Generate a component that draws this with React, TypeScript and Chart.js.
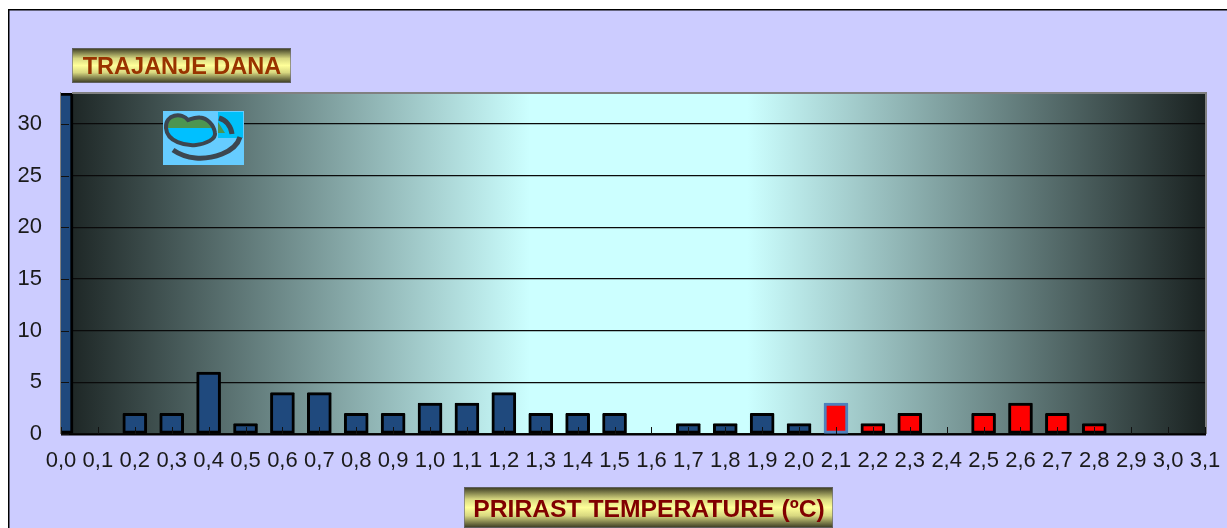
import React, { useEffect, useRef } from "react";
import { Chart, registerables } from "chart.js";

Chart.register(...registerables);

const categories = ["0,0","0,1","0,2","0,3","0,4","0,5","0,6","0,7","0,8","0,9","1,0","1,1","1,2","1,3","1,4","1,5","1,6","1,7","1,8","1,9","2,0","2,1","2,2","2,3","2,4","2,5","2,6","2,7","2,8","2,9","3,0","3,1"];
const days = [33,0,2,2,6,1,4,4,2,2,3,3,4,2,2,2,0,1,1,2,1,3,1,2,0,2,3,2,1,0,0,0];
const yTicks = [0,5,10,15,20,25,30];
const yTitle = "TRAJANJE DANA";
const xTitle = "PRIRAST TEMPERATURE (ºC)";

const BLUE = "#1f497d";
const RED = "#ff0000";
const FONT = '"Liberation Sans", Arial, sans-serif';

function box(ctx: CanvasRenderingContext2D, x: number, y: number, w: number, h: number, text: string, color: string, size: number, dy: number) {
  const g = ctx.createLinearGradient(0, y, 0, y + h);
  g.addColorStop(0, "#35351f");
  g.addColorStop(0.3, "#d8d880");
  g.addColorStop(0.5, "#ffff99");
  g.addColorStop(0.7, "#d8d880");
  g.addColorStop(1, "#35351f");
  ctx.fillStyle = g;
  ctx.fillRect(x, y, w, h);
  ctx.strokeStyle = "rgba(110,110,120,0.7)";
  ctx.lineWidth = 1;
  ctx.strokeRect(x + 0.5, y + 0.5, w - 1, h - 1);
  ctx.fillStyle = color;
  ctx.font = `bold ${size}px ${FONT}`;
  ctx.textAlign = "center";
  ctx.textBaseline = "middle";
  ctx.fillText(text, x + w / 2 + 0.5, y + h / 2 + dy);
}

function logo(ctx: CanvasRenderingContext2D) {
  ctx.save();
  ctx.fillStyle = "#66ccff";
  ctx.fillRect(163, 111, 81, 54);
  ctx.fillStyle = "#00c0f8";
  ctx.fillRect(218, 112, 25, 26);
  const lens = new Path2D();
  lens.moveTo(188, 120);
  lens.bezierCurveTo(182, 112, 165, 114, 166, 128);
  lens.bezierCurveTo(167, 142, 186, 146, 196, 145);
  lens.bezierCurveTo(206, 144, 216, 139, 215, 133);
  lens.bezierCurveTo(214, 125, 207, 118, 200, 117.5);
  lens.bezierCurveTo(195, 117, 191, 119, 188, 120);
  lens.closePath();
  ctx.save();
  ctx.clip(lens);
  ctx.fillStyle = "#00c0ff";
  ctx.fillRect(163, 111, 55, 40);
  ctx.fillStyle = "#4d9550";
  ctx.fillRect(163, 111, 55, 17);
  ctx.restore();
  ctx.strokeStyle = "#3c4650";
  ctx.lineCap = "round";
  ctx.lineWidth = 4;
  ctx.stroke(lens);
  ctx.fillStyle = "#4d9550";
  ctx.beginPath();
  ctx.moveTo(218, 122);
  ctx.lineTo(225, 133);
  ctx.lineTo(218, 133);
  ctx.closePath();
  ctx.fill();
  ctx.lineCap = "butt";
  ctx.lineWidth = 5;
  ctx.beginPath();
  ctx.moveTo(219, 118);
  ctx.bezierCurveTo(226, 120, 231, 126, 232, 134);
  ctx.stroke();
  ctx.beginPath();
  ctx.moveTo(173, 150);
  ctx.bezierCurveTo(186, 159, 204, 161, 222, 154);
  ctx.bezierCurveTo(232, 150, 238, 144, 240, 137);
  ctx.stroke();
  ctx.restore();
}

const decorPlugin = {
  id: "decor",
  beforeDraw(chart: any) {
    const { ctx, chartArea: a } = chart;
    ctx.save();
    ctx.fillStyle = "#ffffff";
    ctx.fillRect(0, 0, chart.width, chart.height);
    ctx.fillStyle = "#ccccff";
    ctx.fillRect(9, 10, chart.width, chart.height);
    ctx.fillStyle = "#000000";
    ctx.fillRect(8, 9, chart.width, 1.5);
    ctx.fillRect(8, 9, 1.5, chart.height);
    const g = ctx.createLinearGradient(a.left, 0, a.right, 0);
    g.addColorStop(0, "#1a2221");
    g.addColorStop(0.41, "#ccffff");
    g.addColorStop(0.6, "#ccffff");
    g.addColorStop(1, "#1a2221");
    ctx.fillStyle = g;
    ctx.fillRect(a.left, a.top, a.right - a.left, a.bottom - a.top);
    ctx.restore();
  },
  afterDatasetsDraw(chart: any) {
    const { ctx, chartArea: a, scales } = chart;
    ctx.save();
    ctx.fillStyle = "#808080";
    ctx.fillRect(a.left + 11, a.top - 1, a.right - a.left - 9, 2);
    ctx.fillRect(a.right, a.top - 1, 2, a.bottom - a.top + 1);
    ctx.fillRect(a.left - 1, a.top - 1, 1, a.bottom - a.top + 1);
    ctx.fillStyle = "#000000";
    ctx.fillRect(a.left, a.bottom, a.right - a.left + 1, 1.5);
    ctx.strokeStyle = "#111111";
    ctx.lineWidth = 1;
    scales.x.ticks.forEach((_: any, i: number) => {
      const x = Math.round(scales.x.getPixelForTick(i)) + 0.5;
      ctx.beginPath();
      ctx.moveTo(x, a.bottom);
      ctx.lineTo(x, a.bottom - 7);
      ctx.stroke();
    });
    scales.y.ticks.forEach((_: any, i: number) => {
      const y = Math.round(scales.y.getPixelForTick(i)) + 0.5;
      ctx.beginPath();
      ctx.moveTo(a.left, y);
      ctx.lineTo(a.left + 8, y);
      ctx.stroke();
    });
    logo(ctx);
    box(ctx, 72, 48, 219, 35, yTitle, "#993300", 23.5, 2);
    box(ctx, 464, 487, 369, 41, xTitle, "#800000", 24.7, 2.5);
    ctx.restore();
  },
};

export default function App() {
  const ref = useRef<HTMLCanvasElement>(null);
  useEffect(() => {
    const chart = new Chart(ref.current!, {
      type: "bar",
      data: {
        labels: categories,
        datasets: [
          {
            data: days,
            backgroundColor: days.map((_, i) => (i >= 21 ? RED : BLUE)),
            borderColor: days.map((_, i) => (i === 21 ? "#4f81bd" : "#000000")),
            borderWidth: 3,
            borderSkipped: false,
            borderRadius: 1,
            barThickness: 24,
          },
        ],
      },
      options: {
        responsive: false,
        animation: false,
        devicePixelRatio: 1,
        layout: { padding: { left: 0, right: 22, top: 93, bottom: 0 } },
        plugins: { legend: { display: false }, tooltip: { enabled: false }, title: { display: false } },
        scales: {
          x: {
            offset: false,
            afterFit: (s: any) => { s.height = 94; s.paddingLeft = 0; s.paddingRight = 0; },
            grid: { display: false },
            border: { display: false },
            ticks: {
              autoSkip: false,
              maxRotation: 0,
              minRotation: 0,
              padding: 6,
              color: "#1a1a1a",
              font: { family: FONT, size: 22 },
            },
          },
          y: {
            min: 0,
            max: 33,
            afterFit: (s: any) => { s.width = 61; s.paddingTop = 0; s.paddingBottom = 0; },
            afterBuildTicks: (s: any) => { s.ticks = yTicks.map((value) => ({ value })); },
            grid: { color: "#0a0a0a", lineWidth: 1.3, drawTicks: false },
            border: { display: false },
            ticks: {
              padding: 19,
              color: "#1a1a1a",
              font: { family: FONT, size: 22 },
            },
          },
        },
      },
      plugins: [decorPlugin],
    } as any);
    return () => chart.destroy();
  }, []);
  return (
    <div style={{ position: "absolute", left: 0, top: 0, width: 1227, height: 528, overflow: "hidden" }}>
      <canvas ref={ref} width={1227} height={528} style={{ display: "block" }} />
    </div>
  );
}
